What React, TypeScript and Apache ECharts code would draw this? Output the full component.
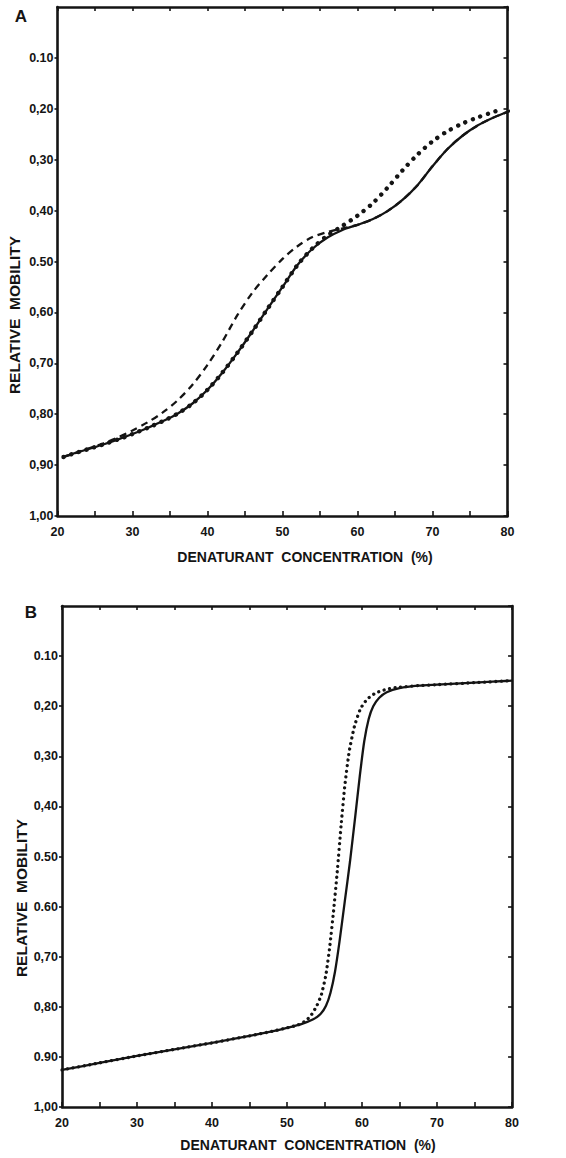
import React, { useEffect, useRef } from 'react';
import * as echarts from 'echarts';

// ---------- tick labels ----------
const xTickValues = [20, 30, 40, 50, 60, 70, 80];
const xTickLabels = ['20', '30', '40', '50', '60', '70', '80'];
const yTickValues = [0.1, 0.2, 0.3, 0.4, 0.5, 0.6, 0.7, 0.8, 0.9, 1.0];
const yTickLabelsA = ['0.10', '0,20', '0,30', '0,40', '0.50', '0,60', '0,70', '0,80', '0,90', '1,00'];
const yTickLabelsB = ['0.10', '0,20', '0,30', '0,40', '0.50', '0.60', '0,70', '0,80', '0.90', '1,00'];

const xTitle = 'DENATURANT  CONCENTRATION  (%)';
const yTitle = 'RELATIVE  MOBILITY';

// ---------- panel A data: [denaturant %, relative mobility] ----------
const panelASolid: [number, number][] = [
  [20.8, 0.884], [22, 0.878], [24, 0.869], [26, 0.86], [28, 0.85], [30, 0.839], [32, 0.827],
  [34, 0.814], [36, 0.799], [38, 0.779], [40, 0.752], [42, 0.718], [44, 0.679], [46, 0.637],
  [48, 0.593], [50, 0.55], [52, 0.507], [54, 0.475], [56, 0.453], [58, 0.438], [60, 0.428],
  [62, 0.417], [64, 0.401], [66, 0.379], [68, 0.35], [70, 0.313], [72, 0.279], [74, 0.253],
  [76, 0.233], [78, 0.218], [80, 0.206], [81.2, 0.199],
];
const panelADotted: [number, number][] = [
  [20.8, 0.884], [22, 0.878], [24, 0.869], [26, 0.86], [28, 0.85], [30, 0.839], [32, 0.827],
  [34, 0.814], [36, 0.799], [38, 0.779], [40, 0.752], [42, 0.718], [44, 0.679], [46, 0.637],
  [48, 0.593], [50, 0.55], [52, 0.507], [54, 0.474], [56, 0.449], [58, 0.43], [60, 0.41],
  [62, 0.386], [64, 0.355], [66, 0.321], [68, 0.29], [70, 0.264], [72, 0.244], [74, 0.229],
  [76, 0.217], [78, 0.207], [79.4, 0.2],
];
const panelADashed: [number, number][] = [
  [20.8, 0.884], [24, 0.868], [26, 0.858], [28, 0.846], [30, 0.832], [32, 0.816], [34, 0.797],
  [36, 0.773], [38, 0.742], [40, 0.703], [42, 0.657], [44, 0.605], [46, 0.561], [48, 0.526],
  [50, 0.495], [52, 0.47], [54, 0.452], [56, 0.442], [58, 0.435], [60, 0.428], [62, 0.417],
  [64, 0.401], [66, 0.379], [68, 0.35], [70, 0.313], [72, 0.279], [74, 0.253], [76, 0.233],
  [78, 0.218], [80, 0.206], [81.2, 0.199],
];

// ---------- panel B data ----------
const panelBSolid: [number, number][] = [
  [20, 0.926], [25, 0.912], [30, 0.898], [35, 0.885], [40, 0.872], [45, 0.858], [48, 0.849],
  [50, 0.842], [52, 0.834], [53.5, 0.825], [54.5, 0.814], [55.2, 0.798], [55.8, 0.772],
  [56.4, 0.73], [57, 0.67], [57.7, 0.59], [58.4, 0.51], [59.1, 0.42], [59.7, 0.34], [60.3, 0.27],
  [60.9, 0.225], [61.5, 0.2], [62.3, 0.183], [63.3, 0.172], [65, 0.164], [67.5, 0.159],
  [70, 0.157], [75, 0.153], [80, 0.149],
];
const panelBDotted: [number, number][] = [
  [20, 0.926], [25, 0.912], [30, 0.898], [35, 0.885], [40, 0.872], [45, 0.858], [48, 0.849],
  [50, 0.842], [51.5, 0.836], [52.5, 0.828], [53.3, 0.815], [54, 0.797], [54.6, 0.775],
  [55.2, 0.735], [55.7, 0.68], [56.2, 0.61], [56.7, 0.53], [57.2, 0.44], [57.7, 0.36],
  [58.3, 0.29], [59, 0.24], [59.8, 0.205], [60.7, 0.186], [61.8, 0.174], [63.3, 0.166],
  [65, 0.162], [67.5, 0.159], [70, 0.157], [75, 0.153], [80, 0.149],
];

const FONT = '"Liberation Sans", Arial, Helvetica, sans-serif';
const INK = '#141414';

function xLabel(v: number): string {
  const i = xTickValues.findIndex((t) => Math.abs(t - v) < 1e-6);
  return i >= 0 ? xTickLabels[i] : '';
}
function yLabel(labels: string[]) {
  return (v: number): string => {
    const i = yTickValues.findIndex((t) => Math.abs(t - v) < 1e-6);
    return i >= 0 ? labels[i] : '';
  };
}

function buildAxes(gridIndex: number, yLabels: string[]) {
  const line = { show: true, onZero: false, lineStyle: { color: INK, width: 2.6 } };
  const tickStyle = { color: INK, width: 1.6 };
  const labelBase = { fontFamily: FONT, fontWeight: 'bold' as const, fontSize: 12.5, color: INK };
  const xAxes = [
    {
      type: 'value', gridIndex, position: 'bottom', min: 20, max: 80, interval: 5,
      axisLine: line, splitLine: { show: false },
      axisTick: { show: true, inside: true, length: 5, lineStyle: tickStyle },
      axisLabel: { ...labelBase, margin: 9, formatter: xLabel, showMinLabel: true, showMaxLabel: true },
    },
    {
      type: 'value', gridIndex, position: 'top', min: 20, max: 80, interval: 5,
      axisLine: line, splitLine: { show: false },
      axisTick: { show: true, inside: true, length: 4, lineStyle: tickStyle },
      axisLabel: { show: false },
    },
  ];
  const yAxes = [
    {
      type: 'value', gridIndex, position: 'left', inverse: true, min: 0, max: 1, interval: 0.1,
      axisLine: line, splitLine: { show: false },
      axisTick: { show: true, inside: false, length: 3, lineStyle: tickStyle },
      axisLabel: { ...labelBase, margin: 4, formatter: yLabel(yLabels), showMinLabel: false },
    },
    {
      type: 'value', gridIndex, position: 'right', inverse: true, min: 0, max: 1, interval: 0.1,
      axisLine: line, splitLine: { show: false },
      axisTick: { show: true, inside: true, length: 4, lineStyle: tickStyle },
      axisLabel: { show: false },
    },
  ];
  return { xAxes, yAxes };
}

function lineSeries(data: [number, number][], axisIdx: number, style: any, smooth: number) {
  return {
    type: 'line', xAxisIndex: axisIdx, yAxisIndex: axisIdx, data,
    showSymbol: false, symbol: 'none', smooth, clip: false, silent: true,
    lineStyle: { color: INK, ...style },
  };
}

export default function App() {
  const ref = useRef<HTMLDivElement>(null);
  useEffect(() => {
    if (!ref.current) return;
    const chart = echarts.init(ref.current, undefined, { renderer: 'svg' });
    const a = buildAxes(0, yTickLabelsA);
    const b = buildAxes(1, yTickLabelsB);
    const solid = { width: 2.3, type: 'solid' };
    const dottedA = { width: 4.4, type: [0.01, 8], cap: 'round' };
    const dottedB = { width: 3.3, type: [0.01, 5.6], cap: 'round' };
    const dashed = { width: 2.3, type: [7, 5] };
    const xTitleStyle = { fontFamily: FONT, fontWeight: 'bold', fontSize: 14, fill: INK };
    const yTitleStyle = { fontFamily: FONT, fontWeight: 'bold', fontSize: 15.5, fill: INK };
    chart.setOption({
      animation: false,
      backgroundColor: '#ffffff',
      grid: [
        { left: 57.5, top: 7, width: 450, height: 509, containLabel: false },
        { left: 62, top: 606, width: 450, height: 501, containLabel: false },
      ],
      xAxis: [...a.xAxes, ...b.xAxes],
      yAxis: [...a.yAxes, ...b.yAxes],
      series: [
        lineSeries(panelASolid, 0, solid, 0.3),
        lineSeries(panelADashed, 0, dashed, 0.3),
        lineSeries(panelADotted, 0, dottedA, 0.3),
        lineSeries(panelBSolid, 2, solid, 0.2),
        lineSeries(panelBDotted, 2, dottedB, 0.2),
      ],
      graphic: [
        { type: 'text', x: 21, y: 16, style: { text: 'A', fontFamily: FONT, fontWeight: 'bold', fontSize: 17, fill: INK, textAlign: 'center', textVerticalAlign: 'middle' } },
        { type: 'text', x: 31, y: 612, style: { text: 'B', fontFamily: FONT, fontWeight: 'bold', fontSize: 17, fill: INK, textAlign: 'center', textVerticalAlign: 'middle' } },
        { type: 'text', x: 305, y: 557, style: { ...xTitleStyle, text: xTitle, textAlign: 'center', textVerticalAlign: 'middle' } },
        { type: 'text', x: 308, y: 1145, style: { ...xTitleStyle, text: xTitle, textAlign: 'center', textVerticalAlign: 'middle' } },
        { type: 'text', x: 14, y: 315, rotation: Math.PI / 2, style: { ...yTitleStyle, text: yTitle, textAlign: 'center', textVerticalAlign: 'middle' } },
        { type: 'text', x: 21, y: 898, rotation: Math.PI / 2, style: { ...yTitleStyle, text: yTitle, textAlign: 'center', textVerticalAlign: 'middle' } },
      ],
    });
    return () => chart.dispose();
  }, []);
  return (
    <div
      ref={ref}
      style={{ position: 'fixed', left: 0, top: 0, width: 566, height: 1158, background: '#fff' }}
    />
  );
}
